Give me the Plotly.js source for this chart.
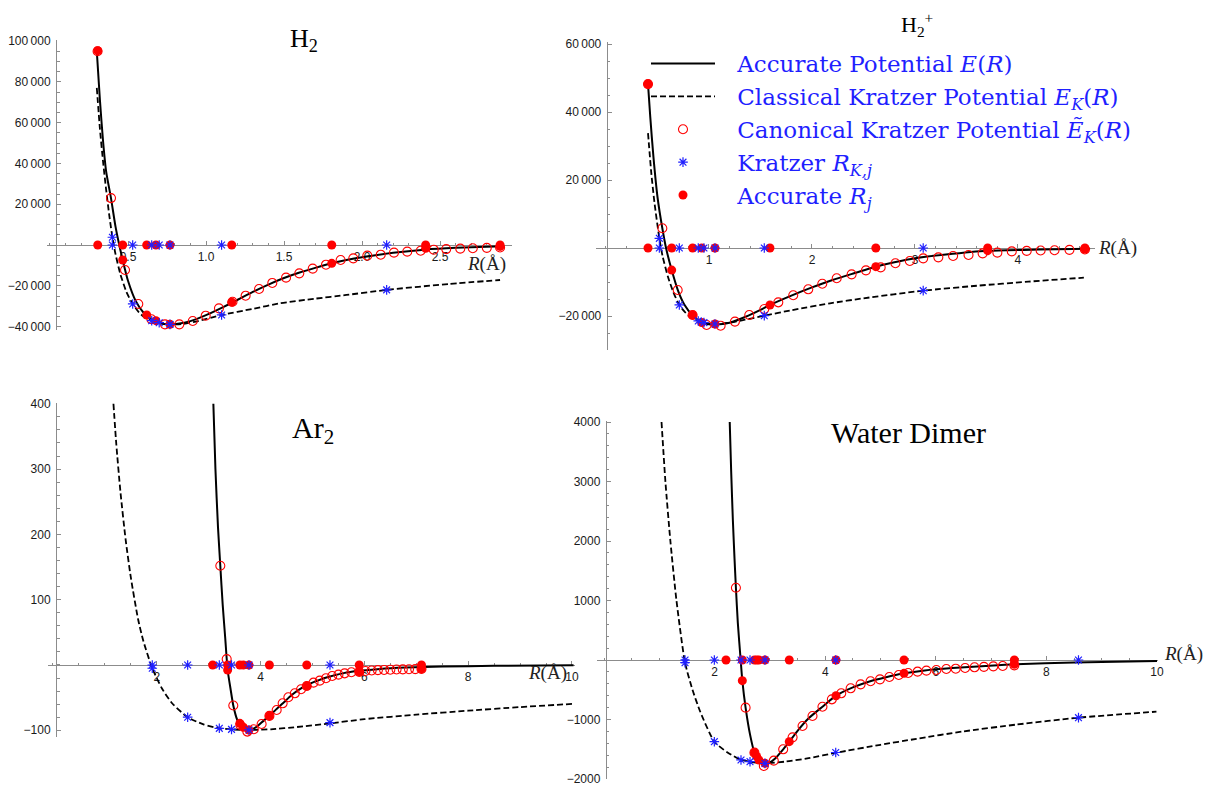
<!DOCTYPE html>
<html><head><meta charset="utf-8">
<script src="https://cdn.plot.ly/plotly-3.0.1.min.js"></script>
<style>html,body{margin:0;padding:0;background:#fff}#chart{width:1208px;height:787px}</style>
</head><body><div id="chart"></div>
<script>
// ================= DATA =================
// ---- H2 ----
const h2AccR = [0.300,0.320,0.340,0.360,0.391,0.420,0.444,0.466,0.500,0.550,0.600,0.650,0.700,0.760,0.820,0.900,1.000,1.100,1.200,1.300,1.400,1.500,1.600,1.700,1.800,1.900,2.000,2.200,2.400,2.600,2.900];
const h2AccE = [95000,71000,51000,36000,23000,9000,0,-7350,-17500,-27500,-33200,-36400,-38200,-38900,-38600,-37300,-34400,-30800,-27000,-23000,-19400,-16200,-13500,-11200,-9100,-7400,-6000,-3800,-2300,-1400,-600];
const h2ClsR = [0.300,0.320,0.340,0.360,0.380,0.400,0.420,0.450,0.490,0.530,0.570,0.610,0.652,0.700,0.769,0.850,0.950,1.100,1.300,1.474,1.700,1.900,2.158,2.560,2.885];
const h2ClsE = [77000,57000,41000,27000,14500,3800,-4500,-14000,-23000,-28900,-33000,-35700,-37100,-38100,-38900,-38700,-37300,-34300,-31300,-28600,-26300,-24500,-22000,-19100,-17150];
const h2CanR = [0.305,0.391,0.481,0.566,0.650,0.737,0.829,0.915,0.998,1.083,1.170,1.254,1.340,1.425,1.513,1.598,1.684,1.769,1.863,1.944,2.034,2.120,2.205,2.290,2.376,2.460,2.540,2.630,2.710,2.800,2.885];
const h2CanE = [95000,23000,-12250,-28900,-36400,-38900,-38900,-37250,-34650,-31050,-27800,-24850,-21550,-18600,-16000,-13900,-11600,-9650,-7350,-6550,-5200,-4750,-3750,-3250,-2800,-2300,-2000,-1800,-1600,-1400,-1200];
const h2KrzR = [0.400,0.530,0.652,0.700,0.769,1.100,2.158];
const h2KrzE = [3800,-28900,-37100,-38100,-38900,-34300,-22000];
const h2RjR  = [0.306,0.466,0.620,0.679,0.769,1.165,1.806,2.408,2.885];
const h2RjE  = [95250,-7350,-34300,-37100,-38900,-28100,-9000,-1650,-700];
// ---- H2+ ----
const h2pAccR = [0.408,0.430,0.460,0.500,0.547,0.583,0.638,0.700,0.760,0.841,0.929,1.058,1.200,1.350,1.500,1.592,1.800,2.000,2.200,2.400,2.620,2.800,3.000,3.300,3.706,4.200,4.700];
const h2pAccE = [48200,38500,27000,15000,5800,0,-6500,-12600,-16600,-19800,-21900,-22500,-22000,-20300,-18200,-16750,-14000,-11600,-9400,-7500,-5500,-4200,-3000,-1900,-800,-450,-250];
const h2pClsR = [0.408,0.440,0.470,0.518,0.550,0.600,0.650,0.712,0.800,0.896,0.951,1.058,1.200,1.350,1.537,1.800,2.175,2.500,3.080,3.600,4.100,4.640];
const h2pClsE = [33800,22000,13500,2850,-2500,-8300,-12700,-16750,-19900,-21450,-21950,-22350,-22000,-21100,-19900,-18300,-16270,-14800,-12550,-11100,-9900,-8720];
const h2pCanR = [0.408,0.547,0.696,0.841,0.977,1.113,1.252,1.391,1.537,1.673,1.818,1.964,2.100,2.240,2.385,2.524,2.667,2.810,2.950,3.080,3.227,3.370,3.520,3.657,3.800,3.940,4.085,4.220,4.355,4.500,4.650];
const h2pCanE = [48200,5800,-12350,-19700,-22650,-22850,-21650,-19700,-17950,-15980,-13900,-12150,-10500,-8900,-7750,-6570,-5700,-4500,-3820,-3040,-2750,-2350,-2060,-1570,-1370,-1000,-850,-750,-650,-550,-450];
const h2pKrzR = [0.518,0.712,0.896,0.951,1.058,1.537,3.080];
const h2pKrzE = [2850,-16750,-21450,-21950,-22350,-19900,-12550];
const h2pRjR  = [0.408,0.638,0.841,0.929,1.058,1.592,2.620,3.706,4.650];
const h2pRjE  = [48200,-6500,-19700,-21900,-22350,-16750,-5490,-790,-300];
// ---- Ar2 ----
const arAccR = [3.090,3.130,3.180,3.224,3.270,3.320,3.365,3.420,3.474,3.550,3.620,3.700,3.776,3.850,3.950,4.050,4.170,4.300,4.450,4.600,4.750,4.890,5.100,5.300,5.600,5.900,6.300,6.800,7.500,8.500,10.030];
const arAccE = [400,300,210,152,92,40,-7.7,-36,-62,-84,-94,-99,-99.8,-98,-93,-86,-78,-68,-57,-46,-37.5,-31,-24,-18.5,-12.5,-9,-6,-4,-2.5,-1.3,-0.5];
const arClsR = [1.165,1.220,1.300,1.400,1.500,1.640,1.740,1.913,2.100,2.300,2.595,2.900,3.205,3.440,3.776,4.200,4.700,5.337,6.000,7.000,8.000,9.000,10.030];
const arClsE = [400,338,265,192,134,70,37,-5,-36,-59,-80,-91,-97,-98.6,-99.5,-98.5,-95,-89.5,-83,-76,-70,-64.5,-59.5];
const arCanR = [3.224,3.347,3.474,3.610,3.744,3.870,4.020,4.170,4.310,4.425,4.535,4.660,4.780,4.890,5.020,5.140,5.260,5.380,5.500,5.620,5.750,5.900,6.020,6.140,6.260,6.380,6.500,6.620,6.740,6.860,6.980,7.100];
const arCanE = [152,9,-62,-92,-102,-98.5,-90.4,-78,-69,-58.7,-49.5,-43.4,-37.2,-32.2,-27.1,-24,-20.4,-16.8,-14.8,-12.8,-11.2,-10.5,-9.2,-8.4,-7.9,-7.6,-7.3,-7.0,-6.8,-6.6,-6.4,-6.2];
const arKrzR = [1.913,2.595,3.205,3.440,3.776,5.337];
const arKrzE = [-5,-80,-97,-98.6,-99.5,-88.3];
const arRjR  = [3.077,3.365,3.600,3.667,3.776,4.170,4.890,5.900,7.100];
const arRjE  = [430,-7.7,-89.4,-95.4,-99.5,-78,-32.2,-10.2,-6];
// ---- Water dimer ----
const wdAccR = [2.273,2.300,2.330,2.360,2.385,2.420,2.471,2.501,2.560,2.640,2.720,2.800,2.910,3.000,3.100,3.240,3.350,3.500,3.700,3.950,4.195,4.500,4.800,5.100,5.425,5.800,6.300,6.900,7.420,8.500,10.000];
const wdAccE = [4000,3150,2350,1700,1215,620,0,-347,-800,-1250,-1557,-1690,-1740,-1720,-1650,-1501,-1373,-1190,-980,-785,-600,-460,-360,-290,-224,-175,-135,-100,-72,-40,-17];
const wdClsR = [1.040,1.110,1.200,1.310,1.465,1.600,1.740,1.995,2.220,2.477,2.640,2.910,3.300,3.700,4.190,5.000,5.650,6.500,7.460,8.580,9.990];
const wdClsE = [4000,3000,2000,1000,-45,-500,-870,-1373,-1545,-1680,-1709,-1737,-1705,-1650,-1560,-1425,-1325,-1200,-1085,-969,-868];
const wdCanR = [2.385,2.560,2.720,2.890,3.070,3.240,3.410,3.590,3.770,3.950,4.120,4.290,4.460,4.640,4.820,4.990,5.160,5.330,5.500,5.670,5.830,6.010,6.190,6.360,6.530,6.700,6.870,7.040,7.210,7.420];
const wdCanE = [1215,-801,-1557,-1782,-1692,-1501,-1300,-1109,-941,-785,-661,-560,-476,-409,-358,-325,-286,-252,-218,-196,-179,-168,-151,-146,-134,-123,-115,-107,-100,-90];
const wdKrzR = [1.465,1.995,2.477,2.640,2.910,4.190,8.580];
const wdKrzE = [-45,-1373,-1680,-1709,-1737,-1555,-969];
const wdRjR  = [2.206,2.501,2.720,2.760,2.800,2.910,3.350,4.195,5.425,7.420];
const wdRjE  = [4700,-347,-1557,-1620,-1680,-1737,-1373,-600,-224,-72];

// ---- tick labels ----
const TS = '\u2009', MN = '\u2212';
const h2XTicks = [0.5,1.0,1.5,2.0,2.5];
const h2XLabels = ['0.5','1.0','1.5','2.0','2.5'];
const h2YTicks = [-40000,-20000,20000,40000,60000,80000,100000];
const h2YLabels = [MN+'40'+TS+'000',MN+'20'+TS+'000','20'+TS+'000','40'+TS+'000','60'+TS+'000','80'+TS+'000','100'+TS+'000'];
const h2pXTicks = [1,2,3,4];
const h2pXLabels = ['1','2','3','4'];
const h2pYTicks = [-20000,20000,40000,60000];
const h2pYLabels = [MN+'20'+TS+'000','20'+TS+'000','40'+TS+'000','60'+TS+'000'];
const arXTicks = [2,4,6,8,10];
const arXLabels = ['2','4','6','8','10'];
const arYTicks = [-100,100,200,300,400];
const arYLabels = [MN+'100','100','200','300','400'];
const wdXTicks = [2,4,6,8,10];
const wdXLabels = ['2','4','6','8','10'];
const wdYTicks = [-2000,-1000,1000,2000,3000,4000];
const wdYLabels = [MN+'2000',MN+'1000','1000','2000','3000','4000'];

const LPAD = '\u2002\u2005';
const legendNames = [
  LPAD + 'Accurate Potential <i>E</i>(<i>R</i>)',
  LPAD + 'Classical Kratzer Potential <i>E</i><sub><i>K</i></sub>(<i>R</i>)',
  LPAD + 'Canonical Kratzer Potential <i>\u1EBC</i><sub><i>K</i></sub>(<i>R</i>)',
  LPAD + 'Kratzer <i>R</i><sub><i>K,j</i></sub>',
  LPAD + 'Accurate <i>R</i><sub><i>j</i></sub>'
];
const panelTitles = ['H<sub>2</sub>','H<sub>2</sub><sup>+</sup>','Ar<sub>2</sub>','Water Dimer'];

// ================= LAYOUT / DRAWING =================
const W = 1208, H = 787;
const AX = '#8c8c8c';
const RED = '#ff0000', BLUE = '#1f1fff';
const zeros = a => a.map(() => 0);

const sets = [
  {accR:h2AccR,accE:h2AccE,clsR:h2ClsR,clsE:h2ClsE,canR:h2CanR,canE:h2CanE,krzR:h2KrzR,krzE:h2KrzE,rjR:h2RjR,rjE:h2RjE,
   xt:h2XTicks,xl:h2XLabels,yt:h2YTicks,yl:h2YLabels},
  {accR:h2pAccR,accE:h2pAccE,clsR:h2pClsR,clsE:h2pClsE,canR:h2pCanR,canE:h2pCanE,krzR:h2pKrzR,krzE:h2pKrzE,rjR:h2pRjR,rjE:h2pRjE,
   xt:h2pXTicks,xl:h2pXLabels,yt:h2pYTicks,yl:h2pYLabels},
  {accR:arAccR,accE:arAccE,clsR:arClsR,clsE:arClsE,canR:arCanR,canE:arCanE,krzR:arKrzR,krzE:arKrzE,rjR:arRjR,rjE:arRjE,
   xt:arXTicks,xl:arXLabels,yt:arYTicks,yl:arYLabels},
  {accR:wdAccR,accE:wdAccE,clsR:wdClsR,clsE:wdClsE,canR:wdCanR,canE:wdCanE,krzR:wdKrzR,krzE:wdKrzE,rjR:wdRjR,rjE:wdRjE,
   xt:wdXTicks,xl:wdXLabels,yt:wdYTicks,yl:wdYLabels}
];

// pixel geometry of each panel (layout only)
const geom = [
  {xd:[46.5,512], yd:[40,330], xr:[-0.0224,2.9615], yr:[-41667,100490], xPy:245, yPx:56, xm:0.1, ym:5000,
   title:[304,40,26], rlab:[486,264]},
  {xd:[596,1095], yd:[41.7,350], xr:[-0.097,4.748], yr:[-30000,60676], xPy:248, yPx:606.7, xm:0.2, ym:5000,
   title:[917,24,22], rlab:[1117,248]},
  {xd:[48,575], yd:[403,737], xr:[-0.096,10.058], yr:[-110.3,401.2], xPy:665, yPx:56, xm:0.5, ym:20,
   title:[313,430,30], rlab:[547,673]},
  {xd:[597,1158], yd:[421,779], xr:[-0.127,10.018], yr:[-2000,4017], xPy:660, yPx:605.8, xm:0.5, ym:200,
   title:[908,432,30], rlab:[1183,654]}
];

const traces = [];
const layout = {
  width: W, height: H, margin: {l:0,r:0,t:0,b:0},
  paper_bgcolor: '#fff', plot_bgcolor: 'rgba(0,0,0,0)',
  showlegend: true,
  legend: {x: 646/W, y: 1-42/H, xanchor:'left', yanchor:'top', bgcolor:'rgba(0,0,0,0)',
           font:{family:'DejaVu Serif', size:23, color:BLUE}, itemwidth:64, tracegroupgap:0},
  annotations: []
};

sets.forEach((d, i) => {
  const g = geom[i];
  const k = i + 1;
  const xid = k === 1 ? 'x' : 'x' + k, yid = k === 1 ? 'y' : 'y' + k;
  const leg = (i === 0);
  const base = {xaxis:xid, yaxis:yid, type:'scatter', hoverinfo:'skip', cliponaxis:true};
  traces.push(Object.assign({}, base, {mode:'lines', x:d.accR, y:d.accE, name:legendNames[0], showlegend:leg, legendrank:1,
    line:{color:'#000', width:2, shape:'spline', smoothing:0.6}}));
  traces.push(Object.assign({}, base, {mode:'lines', x:d.clsR, y:d.clsE, name:legendNames[1], showlegend:leg, legendrank:2,
    line:{color:'#000', width:1.8, dash:'6px,3px', shape:'spline', smoothing:0.6}}));
  traces.push(Object.assign({}, base, {mode:'markers', x:d.canR, y:d.canE, name:legendNames[2], showlegend:leg, legendrank:3,
    marker:{symbol:'circle-open', size:9, color:RED, line:{color:RED, width:1.1}}}));
  traces.push(Object.assign({}, base, {mode:'markers', x:d.rjR, y:d.rjE, name:legendNames[4], showlegend:leg, legendrank:5,
    marker:{symbol:'circle', size:9, color:RED}}));
  traces.push(Object.assign({}, base, {mode:'markers', x:d.rjR, y:zeros(d.rjR), showlegend:false,
    marker:{symbol:'circle', size:9, color:RED}}));
  traces.push(Object.assign({}, base, {mode:'markers', x:d.krzR, y:d.krzE, name:legendNames[3], showlegend:leg, legendrank:4,
    marker:{symbol:'asterisk-open', size:8, color:BLUE, line:{color:BLUE, width:1.2}}}));
  traces.push(Object.assign({}, base, {mode:'markers', x:d.krzR, y:zeros(d.krzR), showlegend:false,
    marker:{symbol:'asterisk-open', size:8, color:BLUE, line:{color:BLUE, width:1.2}}}));

  const tickfont = {family:'Liberation Sans', size:12, color:'#1a1a1a'};
  layout[k === 1 ? 'xaxis' : 'xaxis' + k] = {
    domain:[g.xd[0]/W, g.xd[1]/W], range:g.xr, anchor:'free', position:1 - g.xPy/H, side:'bottom',
    showline:true, linecolor:AX, linewidth:1, showgrid:false, zeroline:false, layer:'below traces',
    ticks:'inside', ticklen:4, tickwidth:1, tickcolor:AX, tickmode:'array', tickvals:d.xt, ticktext:d.xl,
    tickfont:tickfont, ticklabelstandoff:1,
    minor:{tickmode:'linear', tick0:0, dtick:g.xm, ticks:'inside', ticklen:2.5, tickwidth:1, tickcolor:AX, showgrid:false},
    fixedrange:true
  };
  layout[k === 1 ? 'yaxis' : 'yaxis' + k] = {
    domain:[1 - g.yd[1]/H, 1 - g.yd[0]/H], range:g.yr, anchor:'free', position:g.yPx/W, side:'left',
    showline:true, linecolor:AX, linewidth:1, showgrid:false, zeroline:false, layer:'below traces',
    ticks:'inside', ticklen:4, tickwidth:1, tickcolor:AX, tickmode:'array', tickvals:d.yt, ticktext:d.yl,
    tickfont:tickfont, ticklabelstandoff:3,
    minor:{tickmode:'linear', tick0:0, dtick:g.ym, ticks:'inside', ticklen:2.5, tickwidth:1, tickcolor:AX, showgrid:false},
    fixedrange:true
  };
  layout.annotations.push({xref:'paper', yref:'paper', x:g.title[0]/W, y:1 - g.title[1]/H, xanchor:'center', yanchor:'middle',
    showarrow:false, text:panelTitles[i], font:{family:'Liberation Serif', size:g.title[2], color:'#000'}});
  layout.annotations.push({xref:'paper', yref:'paper', x:g.rlab[0]/W, y:1 - g.rlab[1]/H, xanchor:'center', yanchor:'middle',
    showarrow:false, text:'<i>R</i>(Å)', font:{family:'Liberation Serif', size:19, color:'#222'}});
});

Plotly.newPlot('chart', traces, layout, {displayModeBar:false, staticPlot:true});
</script>
</body></html>
